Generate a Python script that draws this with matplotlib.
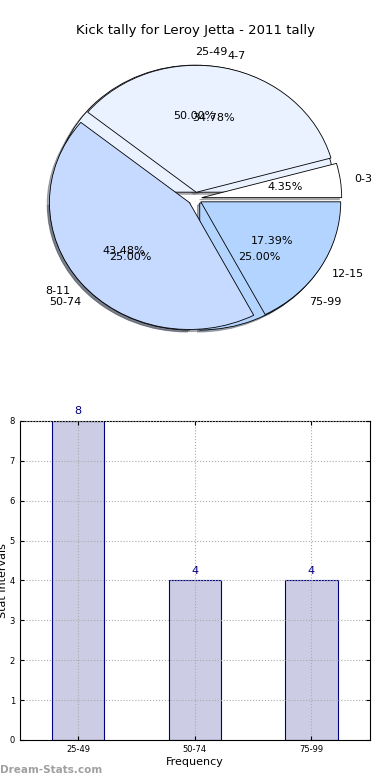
import matplotlib
matplotlib.use('Agg')
import matplotlib.pyplot as plt
import numpy as np

# pie 1: kick counts
kick_labels = ['0-3', '4-7', '8-11', '12-15']
kick_counts = [1, 8, 10, 4]
kick_colors = ['#ffffff', '#eaf2ff', '#c6d9ff', '#b3d4ff']

# pie 2 / bars: stat intervals
interval_labels = ['25-49', '50-74', '75-99']
interval_counts = [8, 4, 4]

fig = plt.figure(figsize=(3.9, 7.8), dpi=100)

ax1 = fig.add_axes([0.051, 0.542, 0.897, 0.407])
shadow = {'ox': -0.012, 'oy': -0.012, 'shade': 0.6}
w2, t2, p2 = ax1.pie(interval_counts, labels=interval_labels, autopct='%1.2f%%',
                     explode=[0.05] * 3, shadow=shadow, startangle=0,
                     colors=['#eaf2ff', '#c6d9ff', '#b3d4ff'],
                     wedgeprops=dict(edgecolor='black', linewidth=0.6),
                     textprops=dict(fontsize=8))
t2[0].set_ha('left')  # label straight up sits right of centre
w1, t1, p1 = ax1.pie(kick_counts, labels=kick_labels, autopct='%1.2f%%',
                     explode=[0.05] * 4, shadow=shadow, startangle=0,
                     colors=kick_colors,
                     wedgeprops=dict(edgecolor='black', linewidth=0.6),
                     textprops=dict(fontsize=8))
ax1.set_aspect('auto')
ax1.set_xlim(-1.25, 1.25)
ax1.set_ylim(-1.25, 1.25)
ax1.axis('off')
fig.text(0.5, 0.961, 'Kick tally for Leroy Jetta - 2011 tally', ha='center',
         va='center', fontsize=9.5)

ax2 = fig.add_axes([0.051, 0.0513, 0.897, 0.409])
x = np.arange(len(interval_labels))
ax2.bar(x, interval_counts, width=0.45, color='#ccccE5', edgecolor='navy',
        linewidth=0.8, zorder=2)
for xi, v in zip(x, interval_counts):
    ax2.text(xi, v + 0.12, str(v), ha='center', va='bottom', color='navy',
             fontsize=8)
ax2.set_xlim(-0.5, 2.5)
ax2.set_ylim(0, 8)
ax2.set_xticks(x)
ax2.set_xticklabels(interval_labels)
ax2.set_yticks(range(9))
ax2.tick_params(labelsize=6, direction='in', top=True, right=True, length=3)
ax2.grid(True, linestyle=':', color='#aaaaaa', linewidth=0.8, zorder=3)
ax2.set_axisbelow(False)
ax2.set_xlabel('Frequency', fontsize=8, labelpad=2)
ax2.set_ylabel('Stat Intervals', fontsize=8)
ax2.yaxis.set_label_coords(-0.034, 0.5)

fig.text(0.0, 0.013, 'Dream-Stats.com', color='#a0a0a0', fontsize=7.5,
         fontweight='bold', ha='left', va='center')

fig.savefig('out.png', dpi=100)
